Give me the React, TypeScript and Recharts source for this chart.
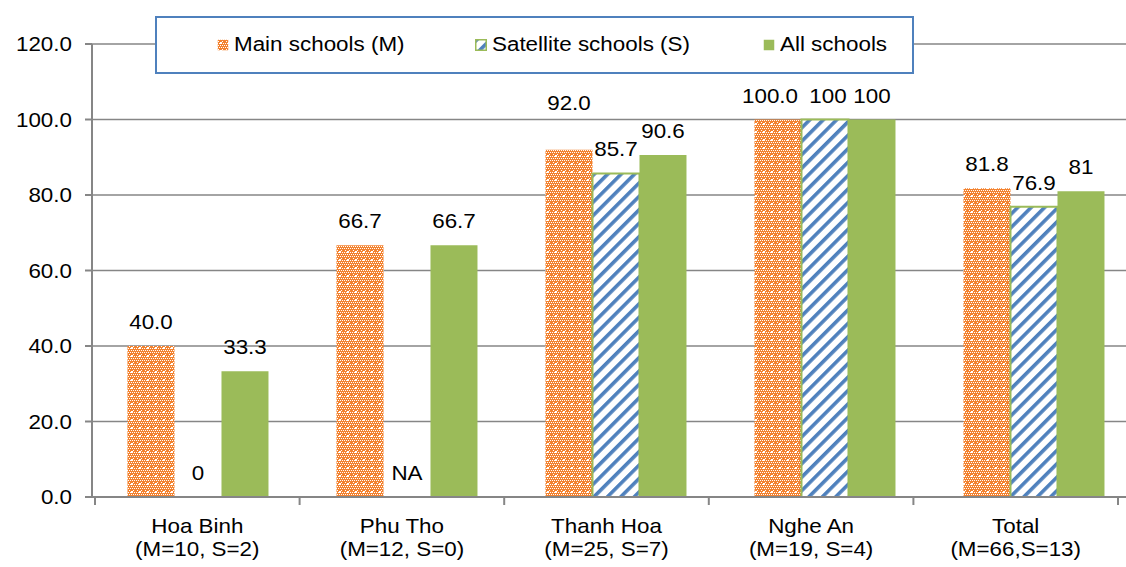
import React from "react";
import { Bar, BarChart, CartesianGrid, Cell, LabelList, XAxis, YAxis } from "recharts";

const regions = ["Hoa Binh", "Phu Tho", "Thanh Hoa", "Nghe An", "Total"];
const sampleNotes = ["(M=10, S=2)", "(M=12, S=0)", "(M=25, S=7)", "(M=19, S=4)", "(M=66,S=13)"];
const mainSchools = [40.0, 66.7, 92.0, 100.0, 81.8];
const satelliteSchools = [0, 0, 85.7, 100, 76.9];
const allSchools = [33.3, 66.7, 90.6, 100, 81];
const mainLabels = ["40.0", "66.7", "92.0", "100.0", "81.8"];
const satelliteLabels = ["0", "NA", "85.7", "100", "76.9"];
const allLabels = ["33.3", "66.7", "90.6", "100", "81"];
const yTicks = [0, 20, 40, 60, 80, 100, 120];

const data = regions.map((r, i) => ({
  region: r,
  note: sampleNotes[i],
  main: mainSchools[i],
  satellite: satelliteSchools[i],
  all: allSchools[i],
  mainLabel: mainLabels[i],
  satLabel: satelliteLabels[i],
  allLabel: allLabels[i],
}));

const FONT = "'Liberation Sans', Arial, sans-serif";
const GRID = "#868686";
const GREEN = "#9BBB59";
const BLUE = "#4F81BD";
const ORANGE = "#F3822F";
const STRETCH = 1.12;

function Txt({ x, y, anchor = "middle", children }: any) {
  return (
    <text
      transform={`translate(${x},${y}) scale(${STRETCH},1)`}
      x={0}
      y={0}
      textAnchor={anchor}
      fontSize={20}
      fontFamily={FONT}
      fill="#000"
    >
      {children}
    </text>
  );
}

// small manual nudges, like Excel does to avoid overlapping labels
function makeLabel(nudge: Record<string, [number, number]> = {}) {
  return (props: any) => {
    const { x, y, width, value } = props;
    const [dx, dy] = nudge[String(value)] ?? [0, 0];
    return (
      <Txt x={Number(x) + Number(width) / 2 + dx} y={Number(y) - 17 - dy}>
        {value}
      </Txt>
    );
  };
}

function CategoryTick(props: any) {
  const { x, y, payload, index, visibleTicksCount, width } = props;
  const band = (Number(width) - 23) / Number(visibleTicksCount || regions.length);
  const row = data.find((d) => d.region === payload.value);
  return (
    <g>
      <line x1={x - band / 2} x2={x - band / 2} y1={y} y2={y + 8} stroke={GRID} strokeWidth={2} />
      {index === regions.length - 1 && (
        <line x1={x + band / 2} x2={x + band / 2} y1={y} y2={y + 8} stroke={GRID} strokeWidth={2} />
      )}
      <Txt x={x} y={y + 36}>{payload.value}</Txt>
      <Txt x={x} y={y + 59}>{row ? row.note : ""}</Txt>
    </g>
  );
}

function ValueTick(props: any) {
  const { x, y, payload } = props;
  return (
    <Txt x={x} y={y + 7} anchor="end">
      {Number(payload.value).toFixed(1)}
    </Txt>
  );
}

function LegendBox() {
  const items = [
    { label: "Main schools (M)", fill: "url(#mainPattern)", stroke: "none", left: 60 },
    { label: "Satellite schools (S)", fill: "url(#satPattern)", stroke: GREEN, left: 318 },
    { label: "All schools", fill: GREEN, stroke: "none", left: 606 },
  ];
  return (
    <div
      style={{
        position: "absolute",
        left: 155,
        top: 16,
        width: 755,
        height: 54,
        border: `2px solid ${BLUE}`,
        background: "#fff",
        fontFamily: FONT,
        fontSize: 20,
      }}
    >
      {items.map((it) => (
        <div key={it.label} style={{ position: "absolute", left: it.left, top: 15, display: "flex", alignItems: "center" }}>
          <svg width={12} height={12} style={{ marginRight: 5 }}>
            <rect x={0.75} y={0.75} width={10.5} height={10.5} fill={it.fill} stroke={it.stroke} strokeWidth={it.stroke === "none" ? 0 : 1.5} />
          </svg>
          <span style={{ display: "inline-block", transform: `scaleX(${STRETCH})`, transformOrigin: "left center", whiteSpace: "nowrap" }}>
            {it.label}
          </span>
        </div>
      ))}
    </div>
  );
}

export default function App() {
  return (
    <div style={{ position: "absolute", left: 0, top: 0, width: 1126, height: 567, background: "#fff", overflow: "hidden" }}>
      <BarChart
        width={1138}
        height={567}
        data={data}
        margin={{ top: 44, right: 0, bottom: 0, left: 0 }}
        barCategoryGap="16.5%"
        barGap={0}
      >
        <defs>
          <pattern id="mainPattern" width={8} height={8} patternUnits="userSpaceOnUse">
            <rect width={8} height={8} fill={ORANGE} />
            <rect x={0} y={0} width={1} height={1} fill="#fff" />
            <rect x={2} y={0} width={1} height={1} fill="#fff" />
            <rect x={4} y={0} width={1} height={1} fill="#fff" />
            <rect x={6} y={0} width={1} height={1} fill="#fff" />
            <rect x={1} y={2} width={1} height={1} fill="#fff" />
            <rect x={5} y={2} width={1} height={1} fill="#fff" />
            <rect x={0} y={4} width={1} height={1} fill="#fff" />
            <rect x={2} y={4} width={1} height={1} fill="#fff" />
            <rect x={6} y={4} width={1} height={1} fill="#fff" />
            <rect x={1} y={6} width={1} height={1} fill="#fff" />
            <rect x={3} y={6} width={1} height={1} fill="#fff" />
            <rect x={5} y={6} width={1} height={1} fill="#fff" />
            <rect x={7} y={6} width={1} height={1} fill="#fff" />
            <rect x={3} y={3} width={2} height={2} fill="#fff" />
          </pattern>
          <pattern id="satPattern" width={9.5} height={9.5} patternUnits="userSpaceOnUse" patternTransform="rotate(45)">
            <rect width={9.5} height={9.5} fill="#fff" />
            <rect x={0} y={0} width={3.6} height={9.5} fill={BLUE} />
          </pattern>
        </defs>
        <CartesianGrid vertical={false} stroke={GRID} strokeWidth={1.5} />
        <XAxis
          dataKey="region"
          tick={<CategoryTick />}
          tickLine={false}
          tickSize={0}
          tickMargin={0}
          padding={{ left: 3, right: 20 }}
          axisLine={{ stroke: GRID, strokeWidth: 2 }}
          interval={0}
          height={70}
        />
        <XAxis xAxisId="bars" dataKey="region" hide padding={{ left: 1, right: 0 }} />
        <YAxis
          domain={[0, 120]}
          ticks={yTicks}
          width={92}
          tick={<ValueTick />}
          tickLine={{ stroke: GRID, strokeWidth: 2 }}
          tickSize={7}
          tickMargin={13}
          axisLine={{ stroke: GRID, strokeWidth: 2 }}
        />
        <Bar xAxisId="bars" dataKey="main" fill="url(#mainPattern)" isAnimationActive={false}>
          <LabelList dataKey="mainLabel" content={makeLabel({ "92.0": [0, 23], "100.0": [-8, 0] })} />
        </Bar>
        <Bar
          xAxisId="bars"
          dataKey="satellite"
          fill="url(#satPattern)"
          stroke={GREEN}
          strokeWidth={2}
          minPointSize={0.01}
          isAnimationActive={false}
        >
          {data.map((d) => (
            <Cell key={d.region} stroke={d.satellite > 0 ? GREEN : "none"} />
          ))}
          <LabelList dataKey="satLabel" content={makeLabel({ "100": [3, 0] })} />
        </Bar>
        <Bar xAxisId="bars" dataKey="all" fill={GREEN} isAnimationActive={false}>
          <LabelList dataKey="allLabel" content={makeLabel()} />
        </Bar>
      </BarChart>
      <LegendBox />
    </div>
  );
}
